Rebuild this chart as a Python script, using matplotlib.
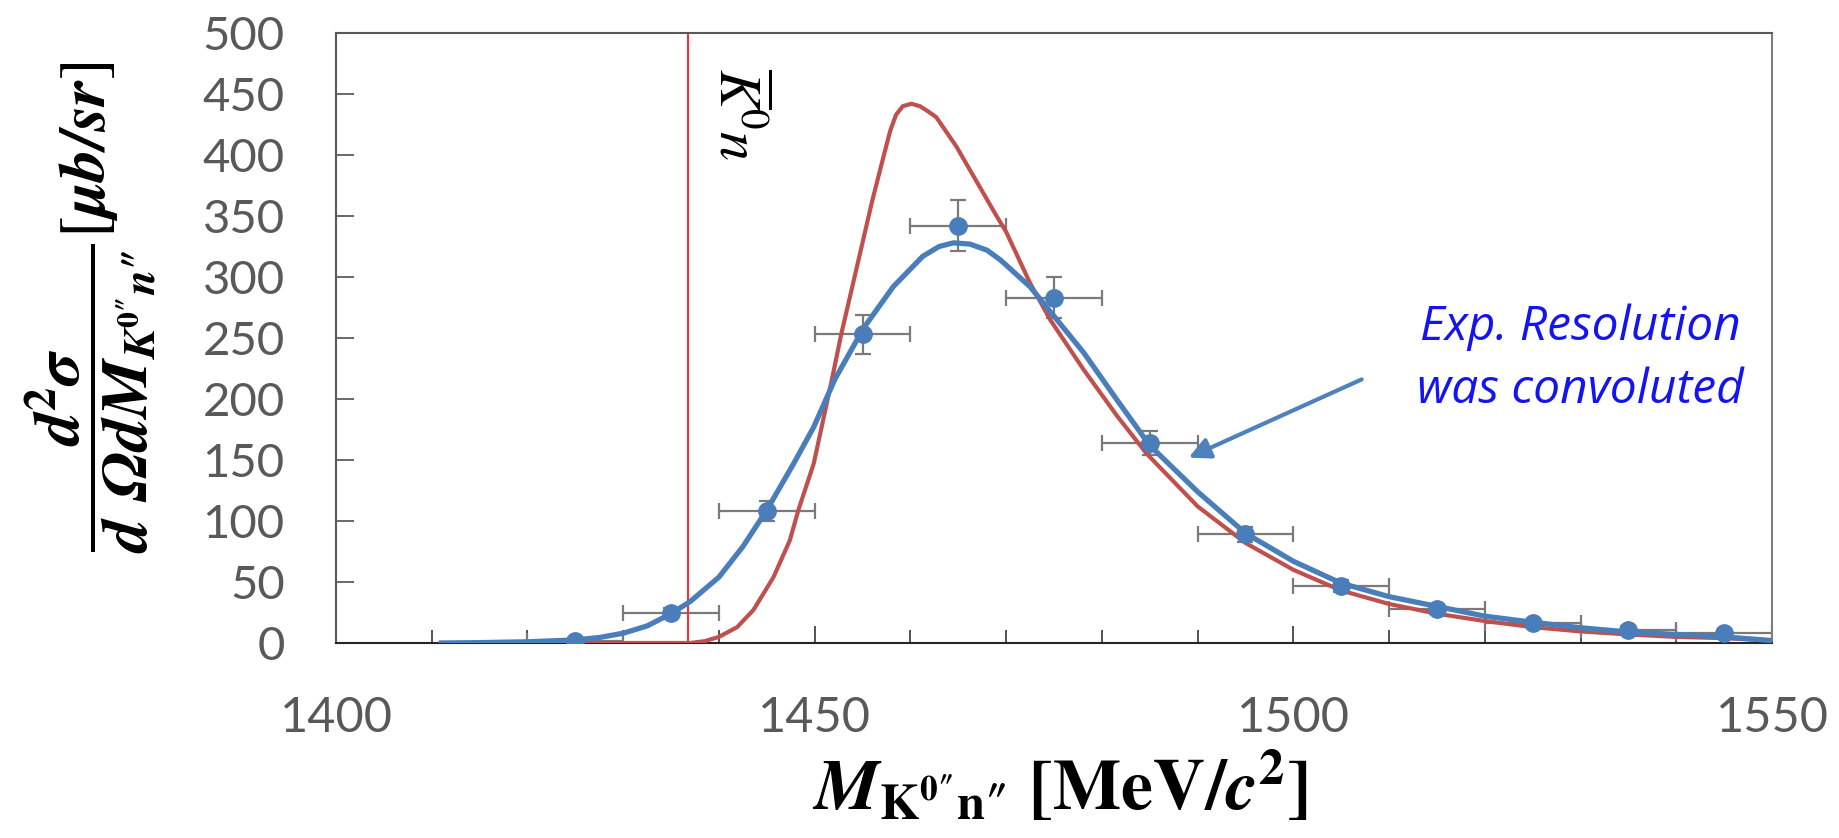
import matplotlib
matplotlib.use("Agg")
import matplotlib.pyplot as plt
from matplotlib.ticker import MultipleLocator

plt.rcParams["mathtext.fontset"] = "stix"

# measured spectrum (bin centres, cross section, errors)
mass = [1425, 1435, 1445, 1455, 1465, 1475, 1485, 1495, 1505, 1515, 1525, 1535, 1545]
xsec = [2, 25, 108, 253, 342, 283, 164, 89, 47, 28, 16, 11, 8]
xsec_err = [2, 4, 8, 16, 21, 17, 10, 6, 5, 4, 3, 3, 3]
bin_half = [5] * len(mass)

# theoretical spectrum (red)
theory_x = [1411, 1420, 1430, 1437, 1438.5, 1440, 1441.9, 1443.6, 1445.7, 1447.4,
            1448.3, 1449.9, 1451.8, 1452.8, 1454.7, 1456, 1457.2, 1457.9, 1458.5,
            1459.2, 1460.1, 1461, 1461.8, 1462.7, 1464.8, 1467.6, 1469, 1470,
            1472.5, 1474.6, 1478.1, 1481.6, 1484.7, 1490, 1495, 1500, 1505, 1510,
            1515, 1520, 1525, 1530, 1535, 1540, 1545, 1550]
theory_y = [0, 0, 0, 0, 1.5, 5, 13, 27, 54, 84,
            109, 147, 216, 254, 318, 362, 399, 420, 433,
            440, 442, 440, 436, 431, 407, 369, 350, 337,
            295, 265, 224, 186, 155, 112, 82, 60, 43, 32,
            24, 18, 13, 9.5, 7, 5, 4, 2]

# spectrum convoluted with experimental resolution (blue)
conv_x = [1411, 1415, 1420, 1425, 1427.5, 1430, 1432.5, 1435, 1437, 1440, 1442.5,
          1445, 1447.8, 1449.9, 1452.1, 1455.1, 1458.2, 1461.3, 1463, 1464.5,
          1466.2, 1468, 1469.4, 1472.5, 1475.3, 1478.1, 1481.6, 1485, 1490, 1495,
          1500, 1505, 1510, 1515, 1520, 1525, 1530, 1535, 1540, 1545, 1550]
conv_y = [0, 0.3, 1, 2.5, 4.5, 8, 14, 24, 34, 54, 79,
          109, 147, 177, 216, 258, 292, 317, 325, 328,
          327, 322, 314, 292, 265, 238, 199, 162, 124, 90,
          67, 49, 38, 30, 22, 17, 12.5, 9, 7, 5, 2]

threshold = 1436.8  # K0bar n threshold

x_ticks = [1400, 1450, 1500, 1550]
x_tick_labels = ["1400", "1450", "1500", "1550"]
y_ticks = [0, 50, 100, 150, 200, 250, 300, 350, 400, 450, 500]
y_tick_labels = [str(v) for v in y_ticks]

W, H = 1840, 838
fig = plt.figure(figsize=(W / 100, H / 100), dpi=100)
ax = fig.add_axes([336 / W, 1 - 643 / H, (1772 - 336) / W, (643 - 33) / H])
ax.set_xlim(1400, 1550)
ax.set_ylim(0, 500)

ax.errorbar(mass, xsec, xerr=bin_half, yerr=xsec_err, fmt="none", ecolor="#7a7a7a",
            elinewidth=1.6, capsize=6, capthick=1.6, zorder=2)
ax.axvline(threshold, color="#ee3535", lw=1.5, zorder=2)
ax.plot(theory_x, theory_y, color="#c0504d", lw=3, zorder=3)
ax.plot(conv_x, conv_y, color="#4a7ebb", lw=3.8, zorder=3)
ax.plot(mass, xsec, "o", color="#4a7ebb", ms=12.5, zorder=4)

# axes styling
ax.set_xticks(x_ticks, labels=x_tick_labels, fontfamily="Lato", fontsize=35, color="#595959")
ax.set_yticks(y_ticks, labels=y_tick_labels, fontfamily="Lato", fontsize=34, color="#595959")
ax.xaxis.set_minor_locator(MultipleLocator(10))
ax.tick_params(axis="x", which="major", direction="in", length=12, width=1.1,
               color="#262626", pad=38)
ax.tick_params(axis="x", which="minor", direction="in", length=9.5, width=1.1,
               color="#262626")
ax.tick_params(axis="y", direction="in", length=13, width=1.1, color="#404040", pad=37)
for side, col in [("top", "#595959"), ("left", "#595959"), ("bottom", "#262626"), ("right", "#7f7f7f")]:
    ax.spines[side].set_color(col)
    ax.spines[side].set_linewidth(1.5)

# annotations
ax.text(1441.9, 433.6, r"$\overline{K}^{0}n$", rotation=-90, ha="center", va="center",
        fontsize=42)
ax.text(1530, 248, "Exp. Resolution", ha="center", va="baseline", fontsize=34.5,
        fontfamily="Open Sans", fontstyle="italic", color="#1414f0")
ax.text(1530, 197, "was convoluted", ha="center", va="baseline", fontsize=34.5,
        fontfamily="Open Sans", fontstyle="italic", color="#1414f0")
ax.annotate("", xy=(1488.8, 151), xytext=(1507.4, 217),
            arrowprops=dict(arrowstyle="-|>", color="#4f81bd", lw=3, mutation_scale=32))

Q = "\u2033"  # quote mark used in the K0"n" subscript
ylab = (r'$\dfrac{\mathbfit{d}^{\mathbf{2}}\mathbfit{\sigma}}'
        r'{\mathbfit{d\ \Omega dM}_{\mathbfit{K}^{\mathbf{0' + Q + r'}}\mathbfit{n}\mathbf{' + Q + r'}}}'
        r'[\mathbfit{\mu b/sr}]$')
fig.text(91 / W, 1 - 307 / H, ylab, rotation=90, ha="center", va="center", fontsize=47)

xlab = (r'$\mathbfit{M}_{\mathbf{K^{0' + Q + r'}n' + Q + r'}}\ '
        r'\mathbf{[MeV/}\mathbfit{c}^{\mathbf{2}}\mathbf{]}$')
fig.text(1060 / W, 1 - 810 / H, xlab, ha="center", va="baseline", fontsize=52)

fig.savefig("out.png", dpi=100)
